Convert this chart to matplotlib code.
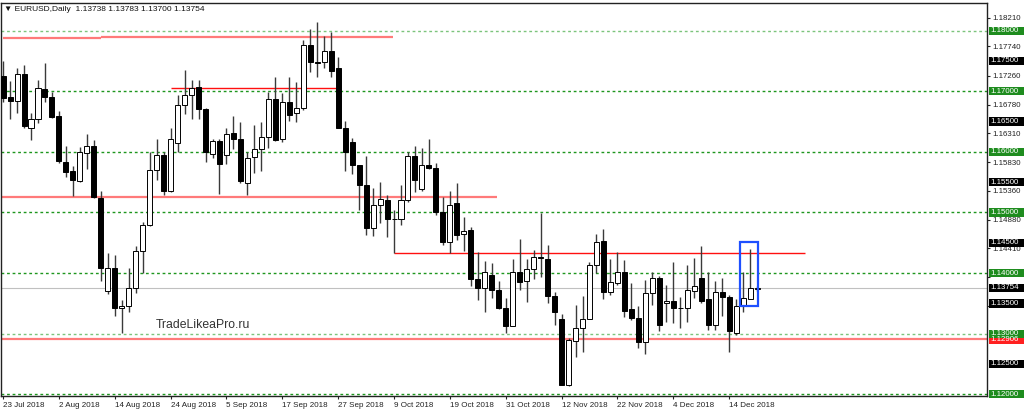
import matplotlib.pyplot as plt
import matplotlib.transforms as mtransforms
from matplotlib.patches import Rectangle
import numpy as np

# EURUSD daily candles, 23 Jul 2018 .. 20 Dec 2018
opens = [1.1725, 1.1691, 1.1684, 1.1728, 1.1640, 1.1655, 1.1703, 1.1691, 1.1659, 1.1584,
         1.1568, 1.1552, 1.1598, 1.1610, 1.1524, 1.1370, 1.1409, 1.1342, 1.1345, 1.1375,
         1.1437, 1.1479, 1.1570, 1.1595, 1.1536, 1.1614, 1.1677, 1.1694, 1.1707, 1.1670,
         1.1596, 1.1618, 1.1595, 1.1631, 1.1621, 1.1548, 1.1591, 1.1604, 1.1624, 1.1688,
         1.1622, 1.1682, 1.1665, 1.1672, 1.1776, 1.1748, 1.1748, 1.1767, 1.1738, 1.1640,
         1.1617, 1.1578, 1.1546, 1.1475, 1.1513, 1.1521, 1.1490, 1.1489, 1.1520, 1.1593,
         1.1538, 1.1579, 1.1574, 1.1500, 1.1452, 1.1515, 1.1464, 1.1471, 1.1391, 1.1375,
         1.1397, 1.1372, 1.1343, 1.1313, 1.1401, 1.1387, 1.1406, 1.1427, 1.1423, 1.1362,
         1.1324, 1.1215, 1.1288, 1.1309, 1.1325, 1.1413, 1.1453, 1.1369, 1.1384, 1.1401,
         1.1341, 1.1326, 1.1287, 1.1367, 1.1392, 1.1350, 1.1354, 1.1343, 1.1343, 1.1371,
         1.1392, 1.1357, 1.1314, 1.1368, 1.1360, 1.1301, 1.1347, 1.1358, 1.13738]
highs = [1.1750, 1.1717, 1.1739, 1.1744, 1.1665, 1.1718, 1.1746, 1.1699, 1.1667, 1.1610,
         1.1577, 1.1608, 1.1629, 1.1619, 1.1536, 1.1433, 1.1430, 1.1356, 1.1408, 1.1445,
         1.1485, 1.1600, 1.1622, 1.1599, 1.1640, 1.1694, 1.1735, 1.1719, 1.1718, 1.1672,
         1.1622, 1.1622, 1.1639, 1.1660, 1.1649, 1.1600, 1.1644, 1.1650, 1.1699, 1.1723,
         1.1698, 1.1724, 1.1716, 1.1785, 1.1803, 1.1815, 1.1792, 1.1798, 1.1756, 1.1651,
         1.1623, 1.1578, 1.1594, 1.1541, 1.1550, 1.1529, 1.1504, 1.1545, 1.1600, 1.1610,
         1.1606, 1.1621, 1.1581, 1.1526, 1.1535, 1.1549, 1.1493, 1.1476, 1.1434, 1.1420,
         1.1416, 1.1387, 1.1359, 1.1424, 1.1456, 1.1424, 1.1438, 1.1499, 1.1447, 1.1368,
         1.1332, 1.1293, 1.1348, 1.1363, 1.1419, 1.1464, 1.1472, 1.1424, 1.1435, 1.1422,
         1.1384, 1.1345, 1.1389, 1.1401, 1.1395, 1.1380, 1.1419, 1.1361, 1.1413, 1.1425,
         1.1444, 1.1401, 1.1387, 1.1392, 1.1364, 1.1357, 1.1402, 1.1439, 1.13783]
lows = [1.1683, 1.1654, 1.1664, 1.1639, 1.1620, 1.1647, 1.1682, 1.1656, 1.1581, 1.1559,
        1.1528, 1.1551, 1.1572, 1.1524, 1.1387, 1.1365, 1.1329, 1.1301, 1.1335, 1.1367,
        1.1400, 1.1478, 1.1554, 1.1529, 1.1534, 1.1599, 1.1662, 1.1654, 1.1655, 1.1584,
        1.1590, 1.1530, 1.1580, 1.1605, 1.1549, 1.1529, 1.1565, 1.1568, 1.1607, 1.1618,
        1.1617, 1.1651, 1.1650, 1.1669, 1.1732, 1.1723, 1.1738, 1.1724, 1.1639, 1.1568,
        1.1563, 1.1504, 1.1463, 1.1462, 1.1482, 1.1459, 1.1433, 1.1479, 1.1518, 1.1534,
        1.1536, 1.1572, 1.1496, 1.1447, 1.1433, 1.1455, 1.1437, 1.1378, 1.1356, 1.1335,
        1.1359, 1.1340, 1.1301, 1.1312, 1.1372, 1.1352, 1.1390, 1.1394, 1.1350, 1.1315,
        1.1215, 1.1214, 1.1262, 1.1269, 1.1324, 1.1400, 1.1358, 1.1364, 1.1380, 1.1328,
        1.1323, 1.1276, 1.1266, 1.1347, 1.1304, 1.1319, 1.1317, 1.1309, 1.1320, 1.1359,
        1.1350, 1.1306, 1.1306, 1.1329, 1.1269, 1.1298, 1.1335, 1.1357, 1.13700]
closes = [1.1689, 1.1684, 1.1728, 1.1643, 1.1655, 1.1705, 1.1691, 1.1658, 1.1585, 1.1566,
          1.1553, 1.1599, 1.1610, 1.1526, 1.1408, 1.1409, 1.1343, 1.1346, 1.1375, 1.1437,
          1.1480, 1.1570, 1.1595, 1.1536, 1.1621, 1.1677, 1.1694, 1.1706, 1.1670, 1.1600,
          1.1618, 1.1580, 1.1630, 1.1622, 1.1552, 1.1590, 1.1604, 1.1625, 1.1688, 1.1620,
          1.1682, 1.1661, 1.1672, 1.1776, 1.1748, 1.1746, 1.1766, 1.1733, 1.1639, 1.1600,
          1.1578, 1.1546, 1.1475, 1.1513, 1.1522, 1.1489, 1.1489, 1.1520, 1.1593, 1.1553,
          1.1579, 1.1573, 1.1500, 1.1452, 1.1513, 1.1463, 1.1469, 1.1391, 1.1375, 1.1401,
          1.1372, 1.1342, 1.1313, 1.1402, 1.1385, 1.1406, 1.1426, 1.1425, 1.1363, 1.1335,
          1.1216, 1.1290, 1.1309, 1.1324, 1.1414, 1.1451, 1.1369, 1.1386, 1.1401, 1.1337,
          1.1326, 1.1287, 1.1367, 1.1392, 1.1315, 1.1354, 1.1342, 1.1342, 1.1372, 1.1379,
          1.1354, 1.1315, 1.1368, 1.1361, 1.1304, 1.1346, 1.1359, 1.1375, 1.13754]

date_labels = ["23 Jul 2018", "2 Aug 2018", "14 Aug 2018", "24 Aug 2018", "5 Sep 2018",
               "17 Sep 2018", "27 Sep 2018", "9 Oct 2018", "19 Oct 2018", "31 Oct 2018",
               "12 Nov 2018", "22 Nov 2018", "4 Dec 2018", "14 Dec 2018"]
date_step = 8

price_ticks = [1.18210, 1.17740, 1.17260, 1.16780, 1.16310, 1.15830, 1.15360,
               1.14880, 1.14410, 1.13930, 1.13460]
hidden_ticks = [1.13930, 1.13460]   # covered by the level boxes on the scale
green_levels = [1.18, 1.17, 1.16, 1.15, 1.14, 1.13, 1.12]
light_levels = [1.18, 1.13]
black_levels = [1.175, 1.165, 1.155, 1.145, 1.135, 1.125]
bid = 1.13754
red_level = 1.12906

# (start bar, end bar, price, style)
sr_lines = [(0, 14, 1.1788, "pink"), (14, 55.9, 1.1790, "pink"),
            (24, 47.7, 1.1705, "red"), (-0.4, 70.8, 1.1526, "pink"),
            (56, 114.9, 1.1433, "red")]
box = (105.5, 108.1, 1.1346, 1.1452)

o = np.array(opens); h = np.array(highs); l = np.array(lows); c = np.array(closes)
x = np.arange(len(o))

W, H = 1024, 413
fig = plt.figure(figsize=(W / 100, H / 100), dpi=100)
ax = fig.add_axes([0.5 / W, 1 - 395.5 / H, 986.2 / W, 392.8 / H])
ax.set_xlim(-0.37, 140.9)
ax.set_ylim(1.11980, 1.18462)

# levels
for lv in green_levels:
    col = "#7cc47c" if lv in light_levels else "#1e961e"
    ax.axhline(lv, color=col, lw=1, ls=(0, (2, 2)), zorder=1)
ax.axhline(bid, color="#c0c0c0", lw=0.8, zorder=1)
ax.axhline(red_level, color="#ff7a7a", lw=1.6, zorder=1)
for x0, x1, p, kind in sr_lines:
    if kind == "pink":
        ax.hlines(p, x0, x1, color="#ff7a7a", lw=1.6, zorder=1)
    else:
        ax.hlines(p, x0, x1, color="#ff1010", lw=1.0, zorder=1)

# candles
up = c >= o
bottom = np.minimum(o, c)
height = np.maximum(np.abs(c - o), 0.00006)
ax.vlines(x, l, h, color="#3a3a3a", lw=1, zorder=2)
ax.bar(x[up], height[up], bottom=bottom[up], width=0.72, color="white",
       edgecolor="black", lw=0.7, zorder=3)
ax.bar(x[~up], height[~up], bottom=bottom[~up], width=0.72, color="black",
       edgecolor="black", lw=0.7, zorder=3)

ax.add_patch(Rectangle((box[0], box[2]), box[1] - box[0], box[3] - box[2],
                       fill=False, ec="#1e50ff", lw=1.6, zorder=4))

# axes styling
for s in ax.spines.values():
    s.set_color("#222222")
    s.set_linewidth(1)
ax.yaxis.tick_right()
ax.set_yticks(price_ticks)
ax.set_yticklabels(["" if v in hidden_ticks else f"{v:.5f}" for v in price_ticks])
ax.tick_params(axis="y", length=2.5, pad=1.5, labelsize=5.7, colors="#222222")
ax.set_xticks(x[::date_step][:len(date_labels)])
ax.set_xticklabels(date_labels, ha="left")
ax.tick_params(axis="x", length=2.5, pad=2, labelsize=5.8, colors="#222222")
for t in ax.get_xticklabels() + ax.get_yticklabels():
    t.set_fontfamily("Liberation Sans")

# labelled price boxes on the right scale
trans = mtransforms.blended_transform_factory(ax.transAxes, ax.transData)
bw = 35.5 / 986.2
bh = 8.3 / 392.8 * (1.18462 - 1.11980)


def price_box(p, fc):
    ax.add_patch(Rectangle((1 + 1.8 / 986.2, p - bh / 2), bw, bh, transform=trans,
                           fc=fc, ec="none", clip_on=False, zorder=5))
    ax.text(1 + 3.5 / 986.2, p, f"{p:.5f}", transform=trans, color="white",
            fontsize=5.7, family="Liberation Sans", va="center", ha="left",
            clip_on=False, zorder=6)


price_box(red_level, "#ff2020")
for lv in green_levels:
    price_box(lv, "#1e8c1e")
for lv in black_levels:
    price_box(lv, "black")
price_box(bid, "black")

fig.text(4 / W, 1 - 9.5 / H, "\u25bc EURUSD,Daily  1.13738 1.13783 1.13700 1.13754",
         fontsize=6, family=["Liberation Sans", "DejaVu Sans"], va="center",
         color="#111111")
ax.text(155.5 / 986.2, 1.18 - (325 - 30.7) / 6060, "TradeLikeaPro.ru",
        transform=trans, fontsize=8.8, family="Liberation Sans", color="#333333",
        va="center", ha="left")

fig.savefig("out.png", dpi=100)
